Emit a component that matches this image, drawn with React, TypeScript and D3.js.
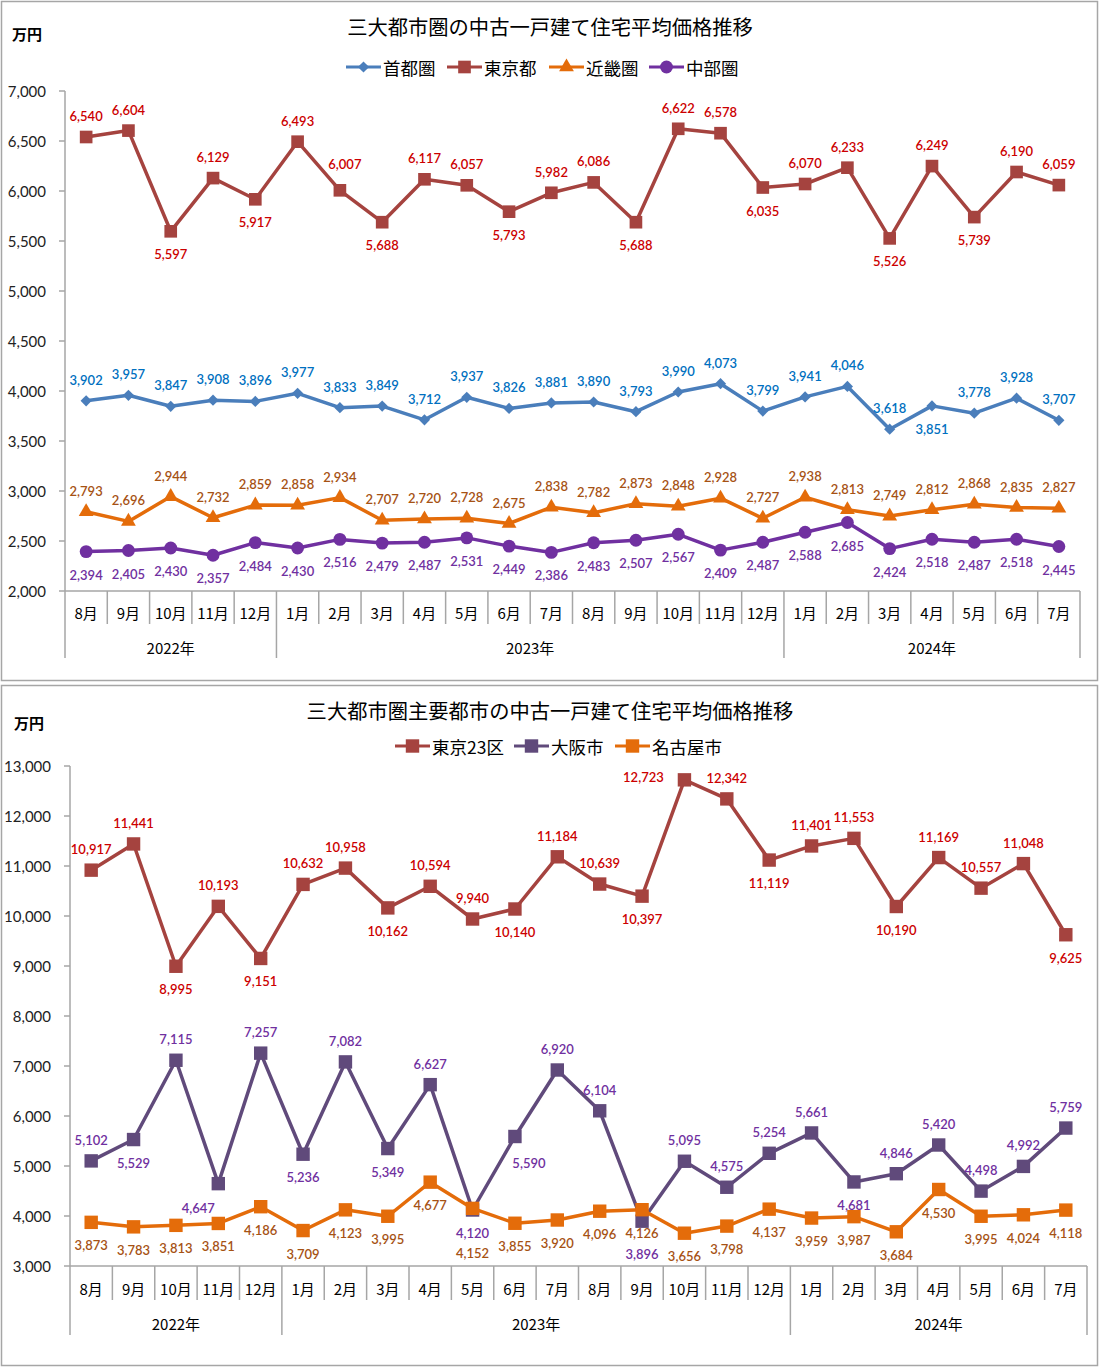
import React from "react";
import * as d3 from "d3";

const months = ["8月","9月","10月","11月","12月","1月","2月","3月","4月","5月","6月","7月","8月","9月","10月","11月","12月","1月","2月","3月","4月","5月","6月","7月"];
const years = [
  { label: "2022年", start: 0, end: 5 },
  { label: "2023年", start: 5, end: 17 },
  { label: "2024年", start: 17, end: 24 },
];

// Chart 1
const shutoken = [3902,3957,3847,3908,3896,3977,3833,3849,3712,3937,3826,3881,3890,3793,3990,4073,3799,3941,4046,3618,3851,3778,3928,3707];
const tokyoto = [6540,6604,5597,6129,5917,6493,6007,5688,6117,6057,5793,5982,6086,5688,6622,6578,6035,6070,6233,5526,6249,5739,6190,6059];
const kinki = [2793,2696,2944,2732,2859,2858,2934,2707,2720,2728,2675,2838,2782,2873,2848,2928,2727,2938,2813,2749,2812,2868,2835,2827];
const chubu = [2394,2405,2430,2357,2484,2430,2516,2479,2487,2531,2449,2386,2483,2507,2567,2409,2487,2588,2685,2424,2518,2487,2518,2445];
const ticks1 = [2000,2500,3000,3500,4000,4500,5000,5500,6000,6500,7000];

// Chart 2
const tokyo23 = [10917,11441,8995,10193,9151,10632,10958,10162,10594,9940,10140,11184,10639,10397,12723,12342,11119,11401,11553,10190,11169,10557,11048,9625];
const osaka = [5102,5529,7115,4647,7257,5236,7082,5349,6627,4120,5590,6920,6104,3896,5095,4575,5254,5661,4681,4846,5420,4498,4992,5759];
const nagoya = [3873,3783,3813,3851,4186,3709,4123,3995,4677,4152,3855,3920,4096,4126,3656,3798,4137,3959,3987,3684,4530,3995,4024,4118];
const ticks2 = [3000,4000,5000,6000,7000,8000,9000,10000,11000,12000,13000];

// which labels sit on the other side of the point (index lists)
const flip1 = { shutoken: [20], tokyoto: [2,4,7,10,13,16,19,21], kinki: [] as number[], chubu: [] as number[] };
const flip2 = { tokyo23: [2,4,7,10,13,16,19,23], osaka: [1,3,5,7,9,10,13,18], nagoya: [] as number[] };
// extra nudges for a few crowded labels: index -> [dx, dy]
const nudge1 = { tokyoto: { 6: [5, -5] } as Record<number, number[]> };
const nudge2 = {
  tokyo23: { 14: [-41, 18] } as Record<number, number[]>,
  osaka: { 3: [-20, 1], 10: [14, 3], 13: [0, 10] } as Record<number, number[]>,
  nagoya: { 9: [0, 22] } as Record<number, number[]>,
};

type Series = {
  name: string;
  values: number[];
  line: string;
  label: string;
  symbol: d3.SymbolType;
  size: number;
  defaultBelow: boolean;
  flip: number[];
  nudge?: Record<number, number[]>;
};

const JP = "'Noto Sans CJK JP', 'Noto Sans', sans-serif";
const NUM = "Lato, 'Open Sans', sans-serif";

type Cfg = {
  top: number;
  height: number;
  title: string;
  left: number;
  right: number;
  yTop: number;
  yBottom: number;
  domain: [number, number];
  ticks: number[];
  series: Series[];
  legendX: number[];
  legendY: number;
  titleY: number;
  unitY: number;
  unitX: number;
  monthDrop: number;
  yearDrop: number;
  monthLabelDy: number;
  yearLabelDy: number;
};

const fmt = d3.format(",");

function Panel({ cfg }: { cfg: Cfg }) {
  const x = d3.scaleBand<number>().domain(d3.range(24)).range([cfg.left, cfg.right]);
  const y = d3.scaleLinear().domain(cfg.domain).range([cfg.yBottom, cfg.yTop]);
  const bw = x.bandwidth();
  const cx = (i: number) => (x(i) as number) + bw / 2;
  const lineGen = d3.line<number>().x((_, i) => cx(i)).y((v) => y(v));
  const bx = (i: number) => cfg.left + i * bw;
  return (
    <g>
      <rect x={1.5} y={cfg.top + 0.5} width={1096} height={cfg.height} fill="#fff" stroke="#a6a6a6" strokeWidth={1.5} />
      <text x={550} y={cfg.titleY} textAnchor="middle" dominantBaseline="central" fontFamily={JP} fontSize={20.3} fill="#000">{cfg.title}</text>
      <text x={cfg.unitX} y={cfg.unitY} dominantBaseline="central" fontFamily={JP} fontSize={15} fontWeight="bold" fill="#000">万円</text>
      {cfg.series.map((s, k) => {
        const lx = cfg.legendX[k];
        return (
          <g key={s.name}>
            <line x1={lx} x2={lx + 35} y1={cfg.legendY} y2={cfg.legendY} stroke={s.line} strokeWidth={3} />
            <path d={d3.symbol(s.symbol, s.size)() as string} transform={`translate(${lx + 17.5},${cfg.legendY})`} fill={s.line} />
            <text x={lx + 37} y={cfg.legendY} dominantBaseline="central" fontFamily={JP} fontSize={17.5} fill="#000">{s.name}</text>
          </g>
        );
      })}
      <line x1={cfg.left} x2={cfg.left} y1={cfg.yTop} y2={cfg.yBottom + cfg.yearDrop} stroke="#a6a6a6" strokeWidth={1.5} />
      {cfg.ticks.map((t) => (
        <g key={t}>
          <line x1={cfg.left - 6} x2={cfg.left} y1={y(t)} y2={y(t)} stroke="#a6a6a6" strokeWidth={1.5} />
          <text x={cfg.left - 19} y={y(t)} textAnchor="end" dominantBaseline="central" fontFamily={NUM} fontSize={15} fill="#222">{fmt(t)}</text>
        </g>
      ))}
      <line x1={cfg.left} x2={cfg.right} y1={cfg.yBottom} y2={cfg.yBottom} stroke="#a6a6a6" strokeWidth={1.5} />
      {d3.range(1, 25).map((i) => {
        const isYear = years.some((yr) => yr.end === i);
        return <line key={i} x1={bx(i)} x2={bx(i)} y1={cfg.yBottom} y2={cfg.yBottom + (isYear ? cfg.yearDrop : cfg.monthDrop)} stroke="#a6a6a6" strokeWidth={1.5} />;
      })}
      {months.map((m, i) => (
        <text key={i} x={cx(i)} y={cfg.yBottom + cfg.monthLabelDy} textAnchor="middle" dominantBaseline="central" fontFamily={JP} fontSize={15} fill="#000">{m}</text>
      ))}
      {years.map((yr) => (
        <text key={yr.label} x={(bx(yr.start) + bx(yr.end)) / 2} y={cfg.yBottom + cfg.yearLabelDy} textAnchor="middle" dominantBaseline="central" fontFamily={JP} fontSize={15} fill="#000">{yr.label}</text>
      ))}
      {cfg.series.map((s) => (
        <g key={s.name}>
          <path d={lineGen(s.values) as string} fill="none" stroke={s.line} strokeWidth={3.5} strokeLinejoin="round" />
          {s.values.map((v, i) => (
            <path key={i} d={d3.symbol(s.symbol, s.size)() as string} transform={`translate(${cx(i)},${y(v)})`} fill={s.line} />
          ))}
        </g>
      ))}
      {cfg.series.map((s) => (
        <g key={s.name + "-lab"}>
          {s.values.map((v, i) => {
            const below = s.flip.includes(i) ? !s.defaultBelow : s.defaultBelow;
            const n = (s.nudge && s.nudge[i]) || [0, 0];
            return (
              <text key={i} x={cx(i) + n[0]} y={y(v) + (below ? 23 : -21) + n[1]} textAnchor="middle" dominantBaseline="central" fontFamily={NUM} fontSize={13} fontWeight={600} fill={s.label}>{fmt(v)}</text>
            );
          })}
        </g>
      ))}
    </g>
  );
}

const cfg1: Cfg = {
  top: 1,
  height: 679,
  title: "三大都市圏の中古一戸建て住宅平均価格推移",
  left: 65,
  right: 1080,
  yTop: 91,
  yBottom: 591,
  domain: [2000, 7000],
  ticks: ticks1,
  series: [
    { name: "首都圏", values: shutoken, line: "#4a7ebb", label: "#0070c0", symbol: d3.symbolDiamond2, size: 80, defaultBelow: false, flip: flip1.shutoken },
    { name: "東京都", values: tokyoto, line: "#a5433f", label: "#cc0000", symbol: d3.symbolSquare, size: 160, defaultBelow: false, flip: flip1.tokyoto, nudge: nudge1.tokyoto },
    { name: "近畿圏", values: kinki, line: "#e46c0a", label: "#a65214", symbol: d3.symbolTriangle, size: 95, defaultBelow: false, flip: flip1.kinki },
    { name: "中部圏", values: chubu, line: "#7030a0", label: "#7030a0", symbol: d3.symbolCircle, size: 130, defaultBelow: true, flip: flip1.chubu },
  ],
  legendX: [346, 447, 549, 649],
  legendY: 67,
  titleY: 26,
  unitY: 33,
  unitX: 12,
  monthDrop: 33,
  yearDrop: 67,
  monthLabelDy: 21,
  yearLabelDy: 56,
};

const cfg2: Cfg = {
  top: 685,
  height: 680,
  title: "三大都市圏主要都市の中古一戸建て住宅平均価格推移",
  left: 70,
  right: 1087,
  yTop: 766,
  yBottom: 1266,
  domain: [3000, 13000],
  ticks: ticks2,
  series: [
    { name: "東京23区", values: tokyo23, line: "#a5433f", label: "#cc0000", symbol: d3.symbolSquare, size: 180, defaultBelow: false, flip: flip2.tokyo23, nudge: nudge2.tokyo23 },
    { name: "大阪市", values: osaka, line: "#604a7b", label: "#7030a0", symbol: d3.symbolSquare, size: 180, defaultBelow: false, flip: flip2.osaka, nudge: nudge2.osaka },
    { name: "名古屋市", values: nagoya, line: "#e46c0a", label: "#a65214", symbol: d3.symbolSquare, size: 180, defaultBelow: true, flip: flip2.nagoya, nudge: nudge2.nagoya },
  ],
  legendX: [395, 514, 615],
  legendY: 746,
  titleY: 710,
  unitY: 722,
  unitX: 14,
  monthDrop: 34,
  yearDrop: 69,
  monthLabelDy: 22,
  yearLabelDy: 57,
};

export default function App() {
  return (
    <svg width={1100} height={1367} style={{ position: "absolute", left: 0, top: 0, background: "#fff" }}>
      <Panel cfg={cfg1} />
      <Panel cfg={cfg2} />
    </svg>
  );
}
